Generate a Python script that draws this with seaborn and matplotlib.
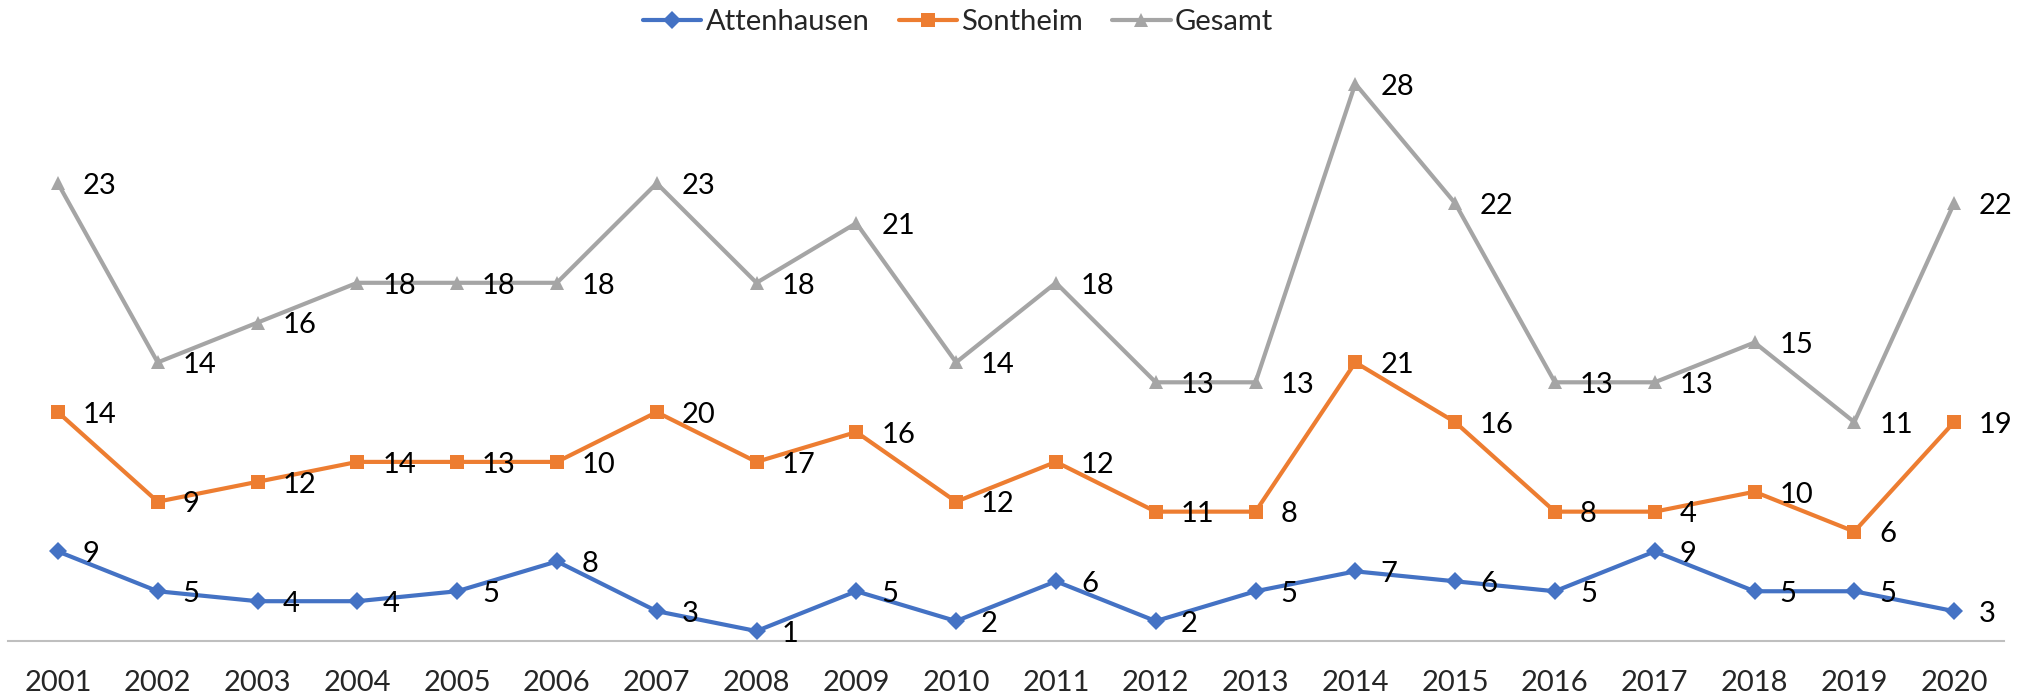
import matplotlib
matplotlib.use("Agg")
import matplotlib.pyplot as plt
import seaborn as sns
import numpy as np
import pandas as pd

years = ["2001", "2002", "2003", "2004", "2005", "2006", "2007", "2008", "2009", "2010",
         "2011", "2012", "2013", "2014", "2015", "2016", "2017", "2018", "2019", "2020"]
attenhausen = [9, 5, 4, 4, 5, 8, 3, 1, 5, 2, 6, 2, 5, 7, 6, 5, 9, 5, 5, 3]
sontheim = [14, 9, 12, 14, 13, 10, 20, 17, 16, 12, 12, 11, 8, 21, 16, 8, 4, 10, 6, 19]
gesamt = [23, 14, 16, 18, 18, 18, 23, 18, 21, 14, 18, 13, 13, 28, 22, 13, 13, 15, 11, 22]

sns.set_theme(style="white")
plt.rcParams['font.family'] = ['Lato', 'DejaVu Sans']

fig = plt.figure(figsize=(20.34, 6.99), dpi=100)
ax = fig.add_axes([8 / 2034, 1 - 641 / 699, (2004 - 8) / 2034, (641 - 44) / 699])

x = np.arange(len(years))
# Excel "stacked line" chart: each series is drawn on top of the previous ones
stack1 = np.array(attenhausen)
stack2 = stack1 + np.array(sontheim)
stack3 = stack2 + np.array(gesamt)

series = [
    ("Attenhausen", stack1, attenhausen, "#4472C4", "D", 9),
    ("Sontheim", stack2, sontheim, "#ED7D31", "s", 9.5),
    ("Gesamt", stack3, gesamt, "#A5A5A5", "^", 10.5),
]

for name, ys, labels, color, marker, ms in series:
    df = pd.DataFrame({"x": x, "y": ys})
    sns.lineplot(data=df, x="x", y="y", ax=ax, color=color, linewidth=3,
                 marker=marker, markersize=ms, markeredgewidth=0,
                 markeredgecolor=color, label=name)
    for xi, yi, lab in zip(x, ys, labels):
        ax.annotate(str(lab), (xi, yi), xytext=(18, -2), textcoords="offset points",
                    ha="left", va="center", fontsize=21, color="black")

ax.set_xlim(-0.5, len(years) - 0.5)
ax.set_ylim(0, 60)
ax.set_xticks(x)
ax.set_xticklabels(years, fontsize=21)
ax.set_yticks([])
ax.set_xlabel("")
ax.set_ylabel("")
ax.tick_params(axis="x", length=0, pad=21)
for side in ["top", "right", "left"]:
    ax.spines[side].set_visible(False)
ax.spines["bottom"].set_color("#BFBFBF")
ax.spines["bottom"].set_linewidth(1.5)
ax.patch.set_alpha(0)

leg = ax.legend(loc="center", bbox_to_anchor=(958 / 2034, 1 - 22 / 699),
                bbox_transform=fig.transFigure, ncol=3, frameon=False,
                fontsize=21, handlelength=2.0, columnspacing=1.0, handletextpad=0.15)

fig.savefig("out.png", dpi=100)
